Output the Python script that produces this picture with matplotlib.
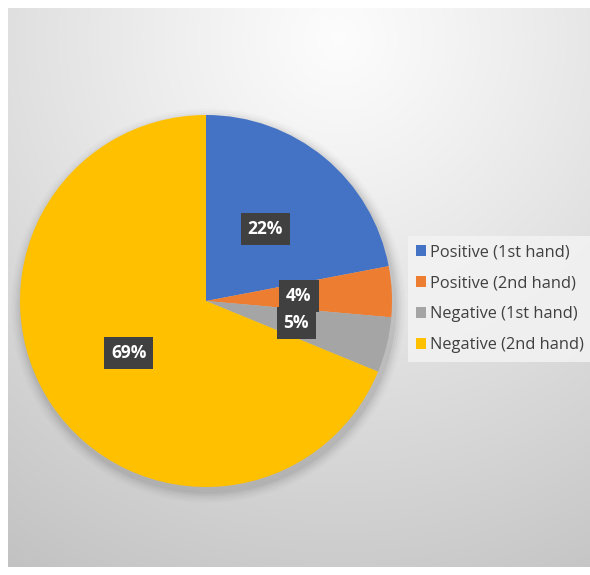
import numpy as np
import matplotlib
matplotlib.use("Agg")
import matplotlib.pyplot as plt

categories = ["Positive (1st hand)", "Positive (2nd hand)", "Negative (1st hand)", "Negative (2nd hand)"]
values = [22.0, 4.4, 4.8, 68.8]
colors = ["#4472C4", "#ED7D31", "#A5A5A5", "#FFC000"]

W, H = 590, 575
fig = plt.figure(figsize=(W / 100, H / 100), dpi=100)
fig.patch.set_facecolor("white")

# background gradient
bg = fig.add_axes([8 / W, 8 / H, 582 / W, 559 / H])
bw, bh = 582, 559
yy, xx = np.mgrid[0:bh, 0:bw]
cx, cy = 330, 30
d = np.sqrt((xx - cx) ** 2 + (yy - cy) ** 2)
d = d / d.max()
v = 0.99 - 0.23 * np.clip(d, 0, 1) ** 1.1
img = np.dstack([v, v, v])
bg.imshow(img, aspect="auto", extent=[0, 1, 0, 1], origin="upper")
bg.set_axis_off()

# pie
cxp, cyp, R = 206, 301, 186
ax = fig.add_axes([(cxp - R) / W, (H - cyp - R) / H, 2 * R / W, 2 * R / H])
ax.set_axis_off()

# soft shadow
for i, a in enumerate([0.05, 0.04, 0.03, 0.02, 0.015]):
    c = plt.Circle((0.012, -0.025), 1.0 + 0.012 * (i + 1), color="black", alpha=a,
                   lw=0, zorder=0, clip_on=False)
    ax.add_patch(c)

wedges, texts, autotexts = ax.pie(
    values, colors=colors, startangle=90, counterclock=False,
    autopct=lambda p: f"{p:.0f}%", pctdistance=0.5,
    wedgeprops=dict(linewidth=0),
)
for t in autotexts:
    t.set_color("white")
    t.set_fontsize(12.5)
    t.set_fontweight("bold")
    t.set_fontfamily("Open Sans")
    t.set_bbox(dict(boxstyle="square,pad=0.4", facecolor="#404040", edgecolor="none"))
ax.set_xlim(-1, 1)
ax.set_ylim(-1, 1)

leg = fig.legend(
    wedges, categories, loc="upper left",
    bbox_to_anchor=(408 / W, 1 - 236 / H), frameon=True, fancybox=False,
    handlelength=0.6, handleheight=0.6, handletextpad=0.25,
    labelspacing=0.92, borderpad=0.5, borderaxespad=0,
    prop={"family": "Open Sans", "size": 11.8},
)
leg.get_frame().set_facecolor("#f3f3f3")
leg.get_frame().set_alpha(0.85)
leg.get_frame().set_edgecolor("none")
for t in leg.get_texts():
    t.set_color("#404040")

fig.savefig("out.png", dpi=100)
